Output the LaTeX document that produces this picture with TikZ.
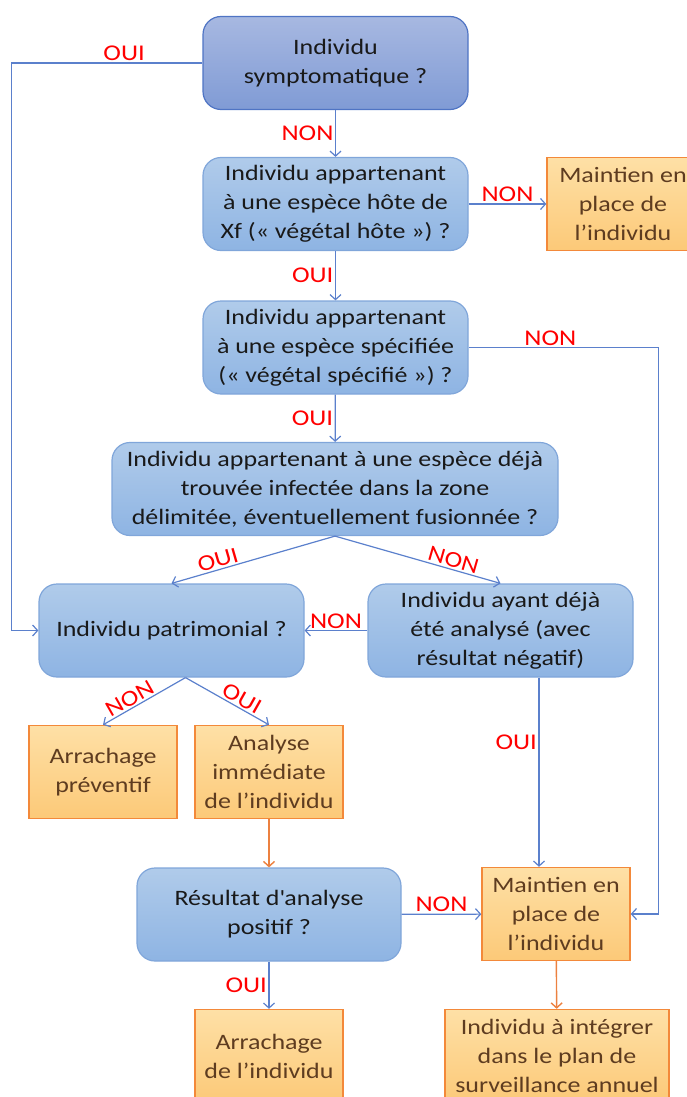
\documentclass[tikz,border=0pt]{standalone}
\usepackage{fontspec}
\setmainfont{Carlito}[FakeStretch=1.18]
\usetikzlibrary{arrows.meta,positioning}

\definecolor{bluelink}{HTML}{5B80CC}
\definecolor{blueedge}{HTML}{80A6DA}
\definecolor{darkedge}{HTML}{4F74C4}
\definecolor{orangelink}{HTML}{EC8140}
\definecolor{orangeedge}{HTML}{F3893A}
\definecolor{browntext}{HTML}{5E3C20}

\begin{document}
\begin{tikzpicture}[x=1pt,y=-1pt,>={Straight Barb[length=5pt,width=11pt]},
    question/.style={draw=blueedge, line width=1.2pt, rounded corners=18pt,
        top color={rgb,255:red,176;green,203;blue,234}, bottom color={rgb,255:red,142;green,180;blue,227},
        minimum width=#1, minimum height=93pt, align=center, inner sep=0pt,
        font=\fontsize{22}{29}\selectfont, text=black!90},
    question/.default=265pt,
    firstquestion/.style={question, draw=darkedge,
        top color={rgb,255:red,167;green,184;blue,225}, bottom color={rgb,255:red,128;green,155;blue,213}},
    action/.style={draw=orangeedge, line width=1.4pt,
        top color={rgb,255:red,254;green,224;blue,166}, bottom color={rgb,255:red,252;green,201;blue,120},
        minimum width=#1, minimum height=93pt, align=center, inner sep=0pt,
        font=\fontsize{22}{29}\selectfont, text=browntext},
    action/.default=148pt,
    answer/.style={font=\fontsize{22.5}{24}\selectfont, text=red, inner sep=1.5pt},
    flow/.style={->, draw=bluelink, line width=1.2pt},
    orangeflow/.style={->, draw=orangelink, line width=1.4pt}]

  \useasboundingbox (0,0) rectangle (687,1097);

  % questions
  \node[firstquestion] (symptome) at (335.5,63) {Individu\\symptomatique ?};
  \node[question] (hote) at (335.5,204) {Individu appartenant\\à une espèce hôte de\\Xf (« végétal hôte ») ?};
  \node[question] (specifie) at (335.5,347.5) {Individu appartenant\\à une espèce spécifiée\\(« végétal spécifié ») ?};
  \node[question=446pt] (infectee) at (335,489) {Individu appartenant à une espèce déjà\\trouvée infectée dans la zone\\délimitée, éventuellement fusionnée ?};
  \node[question] (patrimonial) at (171.5,630.5) {Individu patrimonial ?};
  \node[question] (analyse) at (500.5,630.5) {Individu ayant déjà\\été analysé (avec\\résultat négatif)};
  \node[question=264pt] (resultat) at (269,914.5) {Résultat d\textquotesingle analyse\\positif ?};

  % actions
  \node[action=152pt] (maintienhaut) at (623,204) {Maintien en\\place de\\l’individu};
  \node[action] (preventif) at (103,772) {Arrachage\\préventif};
  \node[action] (immediate) at (269,772) {Analyse\\immédiate\\de l’individu};
  \node[action] (maintienbas) at (556,914) {Maintien en\\place de\\l’individu};
  \node[action] (arrachage) at (269,1056) {Arrachage\\de l’individu};
  \node[action=224pt] (integrer) at (557,1056) {Individu à intégrer\\dans le plan de\\surveillance annuel};

  % connectors
  \draw[flow] (symptome.west) -- node[answer, above, pos=0.41] (ouisympt) {OUI} ++(-191,0) |- (patrimonial.west);
  \draw[flow] (symptome) -- node[answer, left] (nonsympt) {NON} (hote);
  \draw[flow] (hote) -- node[answer, above] (nonhote) {NON} (maintienhaut);
  \draw[flow] (hote) -- node[answer, left] (ouihote) {OUI} (specifie);
  \draw[flow] (specifie.east) -- node[answer, above, pos=0.43] (nonspec) {NON} ++(190,0) |- (maintienbas.east);
  \draw[flow] (specifie) -- node[answer, left] (ouispec) {OUI} (infectee);
  \draw[flow] (infectee.south) -- node[answer, above, sloped, pos=0.7] (ouiinf) {OUI} (patrimonial.north);
  \draw[flow] (infectee.south) -- node[answer, above, sloped, pos=0.7] (noninf) {NON} (analyse.north);
  \draw[flow] (analyse) -- node[answer, above] (nonanal) {NON} (patrimonial);
  \draw[flow] ([xshift=14pt]patrimonial.south) -- node[answer, above, sloped, pos=0.62] (nonpatr) {NON} (preventif.north);
  \draw[flow] ([xshift=14pt]patrimonial.south) -- node[answer, above, sloped, pos=0.62] (ouipatr) {OUI} (immediate.north);
  \draw[flow] ([xshift=38.5pt]analyse.south) -- node[answer, left, pos=0.34] (ouianal) {OUI} ([xshift=-17pt]maintienbas.north);
  \draw[orangeflow] (immediate) -- (resultat);
  \draw[flow] (resultat) -- node[answer, above] (nonres) {NON} (maintienbas);
  \draw[flow] (resultat) -- node[answer, left] (ouires) {OUI} (arrachage);
  \draw[orangeflow] (maintienbas) -- (integrer);
\end{tikzpicture}
\end{document}
